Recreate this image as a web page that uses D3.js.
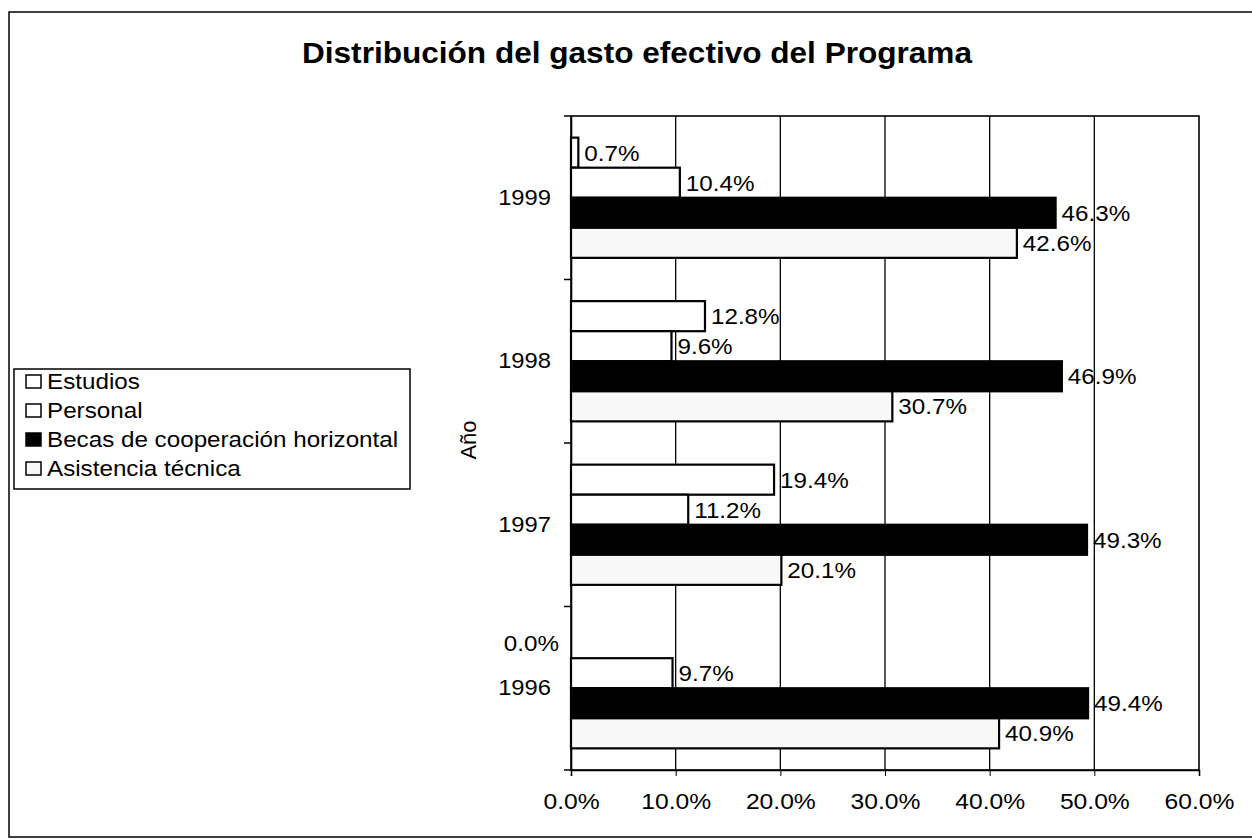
<!DOCTYPE html>
<html>
<head>
<meta charset="utf-8">
<script src="https://cdn.jsdelivr.net/npm/d3@7"></script>
<style>
    body { margin: 0; background: #fff; }
    svg { display: block; font-family: "Liberation Sans", Arial, sans-serif; }
</style>
</head>
<body>
<svg width="1252" height="839"></svg>
<script>
const years = ['1999', '1998', '1997', '1996']
const series = ['Estudios', 'Personal', 'Becas de cooperación horizontal', 'Asistencia técnica']
const estudios = [0.7, 12.8, 19.4, 0.0]
const personal = [10.4, 9.6, 11.2, 9.7]
const becas = [46.3, 46.9, 49.3, 49.4]
const asistencia = [42.6, 30.7, 20.1, 40.9]
const xTicks = [0, 10, 20, 30, 40, 50, 60]

main()

function main() {

    //constants
    const svg = d3.select('svg')
    const left = 571
    const right = 1199
    const top = 116
    const bottom = 770
    const fills = ['#fff', '#fff', '#000', '#f8f8f8']
    const values = [estudios, personal, becas, asistencia]
    const rows = years.flatMap((y, i) => series.map((s, j) => ({ year: y, serie: s, idx: j, value: values[j][i] })))

    // stretch text a bit wider, the scan is wider than the font
    const stretch = (sel, k) => sel.each(function () {
        const len = this.getComputedTextLength()
        d3.select(this).attr('textLength', len * k).attr('lengthAdjust', 'spacingAndGlyphs')
    })

    //scales
    const xScale = d3.scaleLinear()
        .domain([0, 60])
        .range([left, right])
    const yScale = d3.scaleBand()
        .domain(years)
        .range([top, bottom])
    const ySub = d3.scaleBand()
        .domain(series)
        .range([0, yScale.bandwidth()])
        .paddingOuter(0.72)

    //outer frame
    svg.append('rect')
        .attr('x', 9)
        .attr('y', 12)
        .attr('width', 1260)
        .attr('height', 825)
        .attr('fill', 'none')
        .attr('stroke', '#000')
        .attr('stroke-width', 1.5)

    //title
    svg.append('text')
        .attr('x', 637)
        .attr('y', 63)
        .attr('text-anchor', 'middle')
        .style('font-size', '29px')
        .style('font-weight', 'bold')
        .text('Distribución del gasto efectivo del Programa')
        .attr('textLength', 670)
        .attr('lengthAdjust', 'spacingAndGlyphs')

    //gridlines
    svg.append('g')
        .selectAll('line')
        .data(xTicks.slice(1, -1))
        .enter()
        .append('line')
        .attr('x1', d => xScale(d))
        .attr('x2', d => xScale(d))
        .attr('y1', top)
        .attr('y2', bottom)
        .attr('stroke', '#000')
        .attr('stroke-width', 1.3)

    //plot border
    svg.append('rect')
        .attr('x', left)
        .attr('y', top)
        .attr('width', right - left)
        .attr('height', bottom - top)
        .attr('fill', 'none')
        .attr('stroke', '#000')
        .attr('stroke-width', 1.6)

    //axes
    const xAxis = d3.axisBottom(xScale)
        .tickValues(xTicks)
        .tickSize(6)
        .tickPadding(17)
        .tickFormat(d => d3.format('.1f')(d) + '%')
    svg.append('g')
        .attr('transform', 'translate(0,' + bottom + ')')
        .call(xAxis)
        .call(g => g.select('.domain').attr('stroke-width', 1.6))
        .call(g => g.selectAll('text').style('font-size', '22px').attr('fill', '#000').call(stretch, 1.12))

    const yAxis = d3.axisLeft(yScale)
        .tickSize(0)
        .tickPadding(20)
    svg.append('g')
        .attr('transform', 'translate(' + left + ',0)')
        .call(yAxis)
        .call(g => g.select('.domain').attr('stroke-width', 1.6))
        .call(g => g.selectAll('text').style('font-size', '22px').attr('fill', '#000').call(stretch, 1.08))

    // little ticks between the years
    svg.append('g')
        .selectAll('line')
        .data(years.concat(['end']))
        .enter()
        .append('line')
        .attr('x1', left - 7)
        .attr('x2', left)
        .attr('y1', d => d === 'end' ? bottom : yScale(d))
        .attr('y2', d => d === 'end' ? bottom : yScale(d))
        .attr('stroke', '#000')
        .attr('stroke-width', 1.5)

    //bars
    svg.append('g')
        .selectAll('rect')
        .data(rows)
        .enter()
        .append('rect')
        .attr('x', xScale(0))
        .attr('y', d => yScale(d.year) + ySub(d.serie))
        .attr('width', d => xScale(d.value) - xScale(0))
        .attr('height', ySub.bandwidth())
        .attr('fill', d => fills[d.idx])
        .attr('stroke', '#000')
        .attr('stroke-width', 2.2)

    //value labels
    svg.append('g')
        .selectAll('text')
        .data(rows)
        .enter()
        .append('text')
        .attr('x', d => d.value === 0 ? xScale(0) - 12 : xScale(d.value) + 6)
        .attr('y', d => yScale(d.year) + ySub(d.serie) + ySub.bandwidth() / 2 + 8)
        .attr('text-anchor', d => d.value === 0 ? 'end' : 'start')
        .style('font-size', '22px')
        .text(d => d3.format('.1f')(d.value) + '%')
        .call(stretch, 1.1)

    //y label
    svg.append('text')
        .attr('transform', 'translate(476,440) rotate(-90)')
        .attr('text-anchor', 'middle')
        .style('font-size', '22px')
        .text('Año')

    //legend
    const legend = svg.append('g')
    legend.append('rect')
        .attr('x', 14)
        .attr('y', 369)
        .attr('width', 396)
        .attr('height', 120)
        .attr('fill', '#fff')
        .attr('stroke', '#000')
        .attr('stroke-width', 1.5)

    const item = legend.selectAll('g.item')
        .data(series)
        .enter()
        .append('g')
        .attr('class', 'item')
        .attr('transform', (_, i) => 'translate(26,' + (389 + i * 29) + ')')
    item.append('rect')
        .attr('x', 0)
        .attr('y', -14)
        .attr('width', 15)
        .attr('height', 13)
        .attr('fill', (_, i) => fills[i])
        .attr('stroke', '#000')
        .attr('stroke-width', 1.5)
    item.append('text')
        .attr('x', 21)
        .attr('y', 0)
        .style('font-size', '22px')
        .text(d => d)
        .call(stretch, 1.1)
}
</script>
</body>
</html>
